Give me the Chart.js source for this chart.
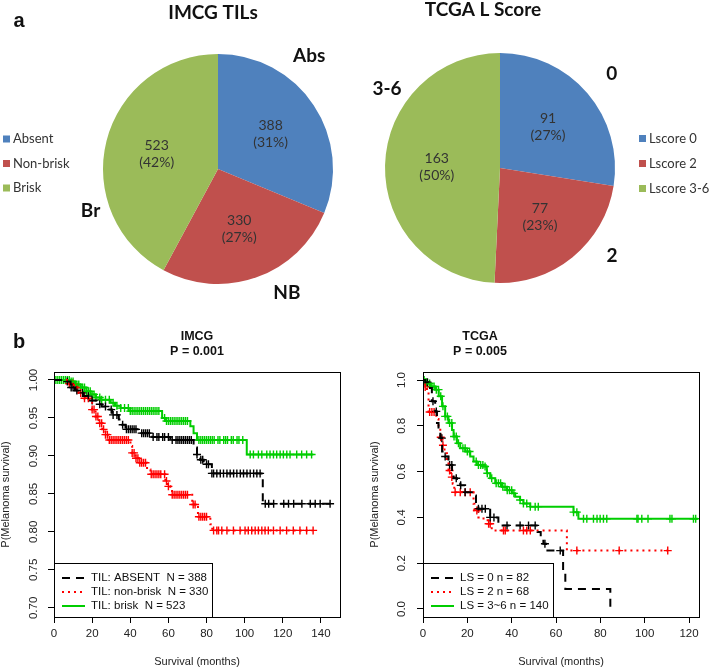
<!DOCTYPE html>
<html>
<head>
<meta charset="utf-8">
<script src="https://cdn.jsdelivr.net/npm/chart.js@4.4.1/dist/chart.umd.min.js"></script>
<style>
html, body { margin: 0; padding: 0; background: #fff; }
#wrap { position: relative; width: 710px; height: 672px; overflow: hidden; }
canvas { position: absolute; }
</style>
</head>
<body>
<div id="wrap">
  <canvas id="pieTil" width="355" height="330" style="left:0;top:0"></canvas>
  <canvas id="pieLs" width="355" height="330" style="left:355px;top:0"></canvas>
  <canvas id="kmImcg" width="355" height="342" style="left:0;top:330px"></canvas>
  <canvas id="kmTcga" width="355" height="342" style="left:355px;top:330px"></canvas>
</div>
<script>
// ---- panel a: pie data ----
const tilCategories = ["Absent", "Non-brisk", "Brisk"];
const tilShort = ["Abs", "NB", "Br"];
const tilCounts = [388, 330, 523];
const tilPercents = [31, 27, 42];

const lsCategories = ["Lscore 0", "Lscore 2", "Lscore 3-6"];
const lsShort = ["0", "2", "3-6"];
const lsCounts = [91, 77, 163];
const lsPercents = [27, 23, 50];

// ---- panel b: Kaplan-Meier data (event times / survival after event / censor times) ----
const imcgAbsentTime = [0, 6, 8.7, 11, 13, 15.6, 19, 22.7, 25, 28, 30.5, 34, 35.8, 37.5, 45.3, 51.5, 61, 73.2, 75, 76.7, 78.5, 82.8, 109.5, 145];
const imcgAbsentSurv = [1, .998, .99, .986, .983, .979, .973, .968, .965, .961, .954, .948, .941, .935, .930, .925, .921, .911, .902, .895, .889, .877, .837, .837];
const imcgAbsentCensor = [7, 9, 10, 12, 15, 18, 20, 24, 27, 30, 31, 33, 36, 38, 39, 40, 41, 42, 43, 46, 47, 48, 49, 50, 52, 54, 55, 57, 58, 60, 62, 64, 65, 66, 67, 68, 69, 70, 71, 72, 75, 77, 78, 80, 81, 82.8, 83.7, 85.4, 87.2, 88.9, 90.7, 92.4, 94.2, 95.9, 97.7, 99.4, 101.2, 102.9, 104.7, 106.4, 108.1, 110.8, 112.6, 115.2, 120.5, 123, 125.7, 130, 134.4, 137, 139.6, 144.8];

const imcgNonBriskTime = [0, 8, 10.5, 13, 15.7, 18.3, 20, 21.8, 23.5, 25.3, 27, 28.8, 40.1, 41, 42.7, 44.5, 48.8, 50.6, 58.4, 59.3, 61, 61.9, 72.5, 75.5, 82, 83, 135.5];
const imcgNonBriskSurv = [1, .995, .99, .983, .976, .970, .961, .952, .943, .935, .928, .921, .913, .904, .897, .891, .882, .876, .867, .860, .854, .849, .836, .820, .810, .802, .802];
const imcgNonBriskCensor = [8, 10, 12, 14, 16, 18, 20, 21, 22, 23, 24, 25, 26, 27, 28, 29, 30, 31, 32, 33, 34, 35, 36, 37, 38, 39, 41, 42, 43, 44, 45, 46, 47, 48, 51, 52, 53, 54, 55, 56, 58, 59, 60, 62, 63, 64, 65, 66, 67, 68, 69, 70, 73, 74, 76, 77, 78, 79, 80, 83.7, 85.4, 86.3, 88, 90.7, 94.1, 97.6, 100.2, 101.9, 103.7, 105.5, 107.2, 109, 110.7, 112.4, 115.1, 118.6, 122, 125.5, 129, 132.5, 135.9];

const imcgBriskTime = [0, 8.7, 11, 14, 17, 19.2, 22, 24.4, 29.7, 32, 34.9, 39.2, 56.7, 58.4, 71.5, 73.2, 75, 101.1, 136];
const imcgBriskSurv = [1, .998, .994, .99, .985, .981, .977, .974, .97, .966, .963, .959, .95, .946, .939, .930, .921, .902, .902];
const imcgBriskCensor = [1, 2, 3, 4, 5, 6, 7, 8, 9, 10, 11, 12, 13, 14, 15, 16, 17, 18, 19, 20, 21, 22, 24, 25, 27, 29, 31, 33, 35, 37, 39, 40, 41, 42, 43, 44, 45, 46, 47, 48, 49, 50, 51, 52, 53, 54, 55, 58, 59, 60, 61, 62, 63, 64, 65, 66, 67, 68, 69, 70, 76, 77, 78, 79, 80, 81, 82, 83, 84, 86, 87, 89, 90, 91, 93, 94, 96, 97, 99, 102.9, 104.6, 107.2, 109, 111.6, 113.3, 115.1, 116.8, 118.6, 120.3, 122.1, 123.8, 127.3, 129.9, 132.5, 135.1];

const tcgaLs0Time = [0, 1, 2.5, 4, 5.5, 6.3, 7, 7.8, 8.6, 10, 11.5, 13.1, 13.8, 15.3, 16.8, 19, 22.8, 23.9, 25, 30.3, 34, 51.7, 53.1, 54.3, 55.5, 63.2, 64.2, 84.5];
const tcgaLs0Surv = [1, .99, .965, .907, .863, .812, .775, .746, .688, .666, .629, .6, .571, .556, .54, .51, .496, .46, .438, .40, .365, .336, .314, .285, .255, .17, .087, 0];
const tcgaLs0Censor = [2, 4.5, 6, 8.5, 10, 12, 13, 15, 17, 19, 25, 26.6, 28.1, 30.3, 32, 37.9, 43.8, 47.6, 50.6, 55, 61.9];

const tcgaLs2Time = [0, 1, 1.8, 2.5, 6, 7, 7.8, 8.8, 9.7, 10.8, 11.5, 12.6, 13.4, 14.1, 22.8, 23.2, 25, 27.3, 29.5, 31, 64.9, 110.5];
const tcgaLs2Surv = [1, .97, .95, .86, .83, .79, .75, .715, .68, .64, .605, .576, .547, .51, .46, .43, .40, .387, .372, .343, .255, .255];
const tcgaLs2Censor = [1, 3, 4, 5, 8, 9, 12, 13, 14.5, 16.8, 19, 21.3, 24.3, 29.6, 30.3, 36.3, 37.1, 45.3, 46.8, 48.4, 69.4, 88.5, 110.4];

const tcgaLs36Time = [0, 1, 2, 3.3, 5.5, 7.1, 8.6, 10, 11.5, 13.1, 13.8, 15.3, 16.8, 19.1, 21.3, 22.8, 24.3, 27.3, 28.8, 30.3, 32.6, 35.6, 37.9, 40.1, 41.6, 43.8, 45.3, 48.4, 67.9, 70.1, 124];
const tcgaLs36Surv = [1, .99, .985, .972, .958, .929, .885, .841, .812, .782, .753, .724, .702, .688, .666, .644, .629, .622, .593, .571, .549, .534, .519, .505, .49, .476, .461, .447, .423, .394, .394];
const tcgaLs36Censor = [0.5, 1, 1.5, 2, 3, 4, 5, 6, 7, 8, 9, 10, 11, 12, 13, 14, 15, 16, 18, 19, 20, 21, 24, 25, 26, 27, 28, 29, 31, 33, 34, 35, 36, 37, 38, 39, 40, 41, 43.8, 45.3, 46.8, 48.4, 50.6, 52, 67.9, 69.4, 72.4, 73.9, 76.9, 78.5, 79.9, 81.4, 82.9, 96.5, 97, 98.7, 101.5, 111.4, 112.3, 122, 123];

const imcgLabels = ["TIL: ABSENT  N = 388", "TIL: non-brisk  N = 330", "TIL: brisk  N = 523"];
const tcgaLabels = ["LS = 0 n = 82", "LS = 2 n = 68", "LS = 3~6 n = 140"];

const imcgXTicks = [0, 20, 40, 60, 80, 100, 120, 140];
const imcgYTicks = [0.70, 0.75, 0.80, 0.85, 0.90, 0.95, 1.00];
const tcgaXTicks = [0, 20, 40, 60, 80, 100, 120];
const tcgaYTicks = [0.0, 0.2, 0.4, 0.6, 0.8, 1.0];

// ---- styles ----
const pieColors = ["#4F81BD", "#C0504D", "#9BBB59"];
const kmColors = ["#000000", "#FF0000", "#00CD00"];
const kmDashes = [[8, 6], [2, 4], []];
const SANS = '"Liberation Sans", Arial, sans-serif';
const PIEFONT = 'Lato, "Open Sans", sans-serif';

// pie labels, legend and titles
const pieText = {
    id: 'pieText',
    afterDatasetsDraw(chart, args, o) {
        const ctx = chart.ctx;
        const arcs = chart.getDatasetMeta(0).data;
        const vals = chart.data.datasets[0].data;
        ctx.save();
        ctx.textAlign = 'center';
        ctx.textBaseline = 'middle';
        arcs.forEach((arc, i) => {
            const p = arc.getProps(['x', 'y', 'startAngle', 'endAngle', 'outerRadius'], true);
            const mid = (p.startAngle + p.endAngle) / 2;
            const r = p.outerRadius * 0.55;
            const x = p.x + Math.cos(mid) * r, y = p.y + Math.sin(mid) * r;
            ctx.font = '14px ' + PIEFONT;
            ctx.fillStyle = '#333';
            ctx.fillText(String(vals[i]), x, y - 8.5);
            ctx.fillText('(' + o.percents[i] + '%)', x, y + 8.5);
            const a = (o.outer[i][0] - 90) * Math.PI / 180;
            ctx.font = 'bold 19px ' + PIEFONT;
            ctx.fillStyle = '#111';
            ctx.fillText(o.short[i], p.x + Math.cos(a) * o.outer[i][1], p.y + Math.sin(a) * o.outer[i][1]);
        });
        // legend
        ctx.textAlign = 'left';
        chart.data.labels.forEach((lab, i) => {
            const y = o.legend.y + i * o.legend.dy;
            ctx.fillStyle = pieColors[i];
            ctx.fillRect(o.legend.x, y - 3.5, 7, 7);
            ctx.font = '13px ' + PIEFONT;
            ctx.fillStyle = '#333';
            ctx.fillText(lab, o.legend.x + 10, y);
        });
        // title
        ctx.textAlign = 'center';
        ctx.font = 'bold 19px ' + PIEFONT;
        ctx.fillStyle = '#111';
        ctx.fillText(o.title, o.titleX, o.titleY);
        if (o.letter) {
            ctx.font = 'bold 20px ' + SANS;
            ctx.fillText(o.letter, 19, 21);
        }
        ctx.restore();
    }
};

function makePie(id, labels, counts, opts, pad) {
    return new Chart(document.getElementById(id), {
        type: 'pie',
        data: {
            labels: labels,
            datasets: [{ data: counts, backgroundColor: pieColors, borderWidth: 0 }]
        },
        options: {
            responsive: false,
            animation: false,
            layout: { padding: pad },
            plugins: { legend: { display: false }, tooltip: { enabled: false }, pieText: opts }
        },
        plugins: [pieText]
    });
}

makePie('pieTil', tilCategories, tilCounts, {
    percents: tilPercents, short: tilShort,
    outer: [[39, 145], [151, 142], [252, 134]],
    legend: { x: 3, y: 139, dy: 24.5 },
    title: 'IMCG TILs', titleX: 213, titleY: 13, letter: 'a'
}, { left: 103, right: 22, top: 54, bottom: 46 });

makePie('pieLs', lsCategories, lsCounts, {
    percents: lsPercents, short: lsShort,
    outer: [[50, 146], [128, 142], [305, 138]],
    legend: { x: 284, y: 138.5, dy: 25 },
    title: 'TCGA L Score', titleX: 128, titleY: 10
}, { left: 30, right: 95, top: 53, bottom: 47 });

// ---- Kaplan-Meier helpers ----
function stepAt(times, surv, t) {
    let s = surv[0];
    for (let i = 0; i < times.length; i++) if (times[i] <= t) s = surv[i];
    return s;
}

function kmDatasets(groups, labels) {
    const out = [];
    groups.forEach((g, i) => {
        out.push({
            label: labels[i],
            data: g[0].map((t, k) => ({ x: t, y: g[1][k] })),
            stepped: true,
            borderColor: kmColors[i],
            borderWidth: 2,
            borderDash: kmDashes[i],
            pointRadius: 0,
            fill: false
        });
    });
    groups.forEach((g, i) => {
        out.push({
            censor: true,
            data: g[2].map(t => ({ x: t, y: stepAt(g[0], g[1], t) })),
            showLine: false,
            pointStyle: 'cross',
            pointRadius: 4,
            pointBorderWidth: 1.4,
            borderColor: kmColors[i],
            backgroundColor: kmColors[i]
        });
    });
    return out;
}

const kmDecor = {
    id: 'kmDecor',
    afterDatasetsDraw(chart, args, o) {
        const { ctx, chartArea: a } = chart;
        ctx.save();
        // legend box
        const top = a.bottom - 54;
        ctx.fillStyle = '#fff';
        ctx.fillRect(a.left, top, o.legendWidth, 54);
        ctx.strokeStyle = '#000';
        ctx.lineWidth = 1;
        ctx.strokeRect(a.left + 0.5, top + 0.5, o.legendWidth, 54);
        const lines = chart.data.datasets.filter(d => !d.censor);
        lines.forEach((d, i) => {
            const y = top + 15 + i * 14;
            ctx.beginPath();
            ctx.setLineDash(d.borderDash);
            ctx.strokeStyle = d.borderColor;
            ctx.lineWidth = 2;
            ctx.moveTo(a.left + 8, y);
            ctx.lineTo(a.left + 31, y);
            ctx.stroke();
            ctx.setLineDash([]);
            ctx.fillStyle = '#111';
            ctx.font = '11.5px ' + SANS;
            ctx.textAlign = 'left';
            ctx.textBaseline = 'middle';
            ctx.fillText(d.label, a.left + 37, y);
        });
        ctx.restore();
    },
    afterDraw(chart, args, o) {
        const { ctx, chartArea: a } = chart;
        ctx.save();
        ctx.strokeStyle = '#000';
        ctx.lineWidth = 1;
        ctx.strokeRect(a.left + 0.5, a.top + 0.5, a.right - a.left, a.bottom - a.top);
        ctx.fillStyle = '#111';
        ctx.textAlign = 'center';
        ctx.textBaseline = 'middle';
        ctx.font = 'bold 12.5px ' + SANS;
        o.title.forEach((t, i) => ctx.fillText(t, o.titleX, 7 + i * 15));
        if (o.letter) {
            ctx.font = 'bold 20px ' + SANS;
            ctx.fillText(o.letter, 19, 12);
        }
        ctx.restore();
    }
};

function makeKm(id, datasets, c) {
    return new Chart(document.getElementById(id), {
        type: 'line',
        data: { datasets: datasets },
        options: {
            responsive: false,
            animation: false,
            layout: { padding: { left: 0, top: 42, right: c.right, bottom: 0 } },
            plugins: { legend: { display: false }, tooltip: { enabled: false }, kmDecor: c.decor },
            scales: {
                x: {
                    type: 'linear', min: 0, max: c.xMax,
                    afterBuildTicks: s => { s.ticks = c.xTicks.map(v => ({ value: v })); },
                    afterFit: s => { s.height = 55; },
                    grid: { drawOnChartArea: false, tickLength: 6, tickColor: '#000', color: '#000' },
                    border: { display: false },
                    ticks: { color: '#222', font: { family: SANS, size: 11.5 }, padding: 4, autoSkip: false, maxRotation: 0, callback: v => String(v) },
                    title: { display: true, text: 'Survival (months)', color: '#222', font: { family: SANS, size: 11, lineHeight: 1 }, padding: { top: 0, bottom: 4.5 } }
                },
                y: {
                    type: 'linear', min: c.yMin, max: c.yMax,
                    afterBuildTicks: s => { s.ticks = c.yTicks.map(v => ({ value: v })); },
                    afterFit: s => { s.width = c.yWidth; },
                    grid: { drawOnChartArea: false, tickLength: 6, tickColor: '#000', color: '#000' },
                    border: { display: false },
                    ticks: { color: '#222', font: { family: SANS, size: 11.5 }, padding: c.yTickPad, autoSkip: false, minRotation: 90, maxRotation: 90, crossAlign: 'center', callback: v => Number(v).toFixed(c.yDigits) },
                    title: { display: true, text: 'P(Melanoma survival)', color: '#222', font: { family: SANS, size: 11, lineHeight: 1 }, padding: { top: c.yTitlePad, bottom: 0 } }
                }
            }
        },
        plugins: [kmDecor]
    });
}

makeKm('kmImcg', kmDatasets([
    [imcgAbsentTime, imcgAbsentSurv, imcgAbsentCensor],
    [imcgNonBriskTime, imcgNonBriskSurv, imcgNonBriskCensor],
    [imcgBriskTime, imcgBriskSurv, imcgBriskCensor]
], imcgLabels), {
    right: 15, xMax: 150, xTicks: imcgXTicks, yMin: 0.688, yMax: 1.0105, yTicks: imcgYTicks, yDigits: 2,
    yWidth: 54, yTickPad: 3, yTitlePad: 0,
    decor: { title: ['IMCG', 'P = 0.001'], titleX: 197, letter: 'b', legendWidth: 158 }
});

makeKm('kmTcga', kmDatasets([
    [tcgaLs0Time, tcgaLs0Surv, tcgaLs0Censor],
    [tcgaLs2Time, tcgaLs2Surv, tcgaLs2Censor],
    [tcgaLs36Time, tcgaLs36Surv, tcgaLs36Censor]
], tcgaLabels), {
    right: 11, xMax: 124.5, xTicks: tcgaXTicks, yMin: -0.035, yMax: 1.035, yTicks: tcgaYTicks, yDigits: 1,
    yWidth: 68, yTickPad: 7, yTitlePad: 14.5,
    decor: { title: ['TCGA', 'P = 0.005'], titleX: 125, legendWidth: 130 }
});
</script>
</body>
</html>
